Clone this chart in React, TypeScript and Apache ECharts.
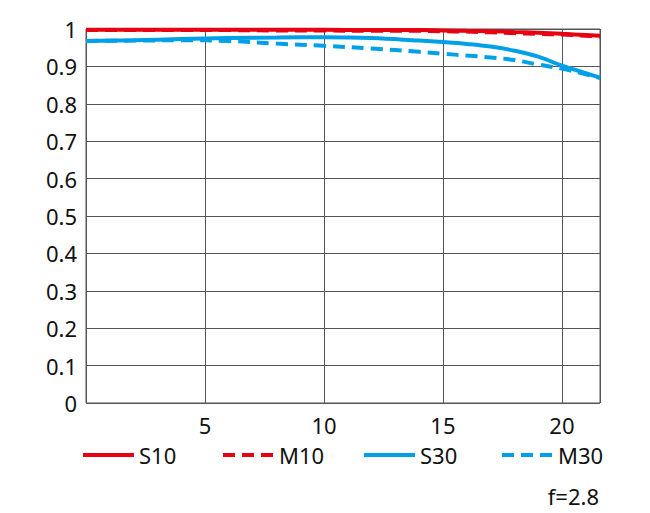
import React, { useEffect, useRef } from "react";
import * as echarts from "echarts";

const xValues = [0, 2, 4, 6, 8, 10, 12, 14, 15, 16, 17, 18, 19, 20, 21, 21.6];
const s10 = [0.998, 0.998, 0.998, 0.998, 0.998, 0.998, 0.997, 0.997, 0.996, 0.995, 0.994, 0.992, 0.99, 0.987, 0.984, 0.982];
const m10 = [0.997, 0.997, 0.997, 0.997, 0.996, 0.996, 0.995, 0.995, 0.994, 0.993, 0.991, 0.989, 0.987, 0.985, 0.982, 0.98];
const s30 = [0.968, 0.97, 0.973, 0.976, 0.977, 0.978, 0.976, 0.969, 0.965, 0.96, 0.953, 0.942, 0.926, 0.902, 0.882, 0.87];
const m30 = [0.968, 0.969, 0.97, 0.968, 0.961, 0.955, 0.948, 0.939, 0.934, 0.929, 0.924, 0.917, 0.905, 0.894, 0.879, 0.869];
const seriesNames = ["S10", "M10", "S30", "M30"];
const seriesValues = [s10, m10, s30, m30];
const xTicks = [5, 10, 15, 20];
const fNumber = "f=2.8";

const RED = "#e60012";
const BLUE = "#00a0e9";
const FONT = "'Noto Sans', 'Open Sans', sans-serif";

export default function App() {
  const ref = useRef<HTMLDivElement>(null);
  useEffect(() => {
    if (!ref.current) return;
    const chart = echarts.init(ref.current, null, { renderer: "svg" });
    const colors = [RED, RED, BLUE, BLUE];
    const dashed = [false, true, false, true];
    const legendLefts = [81, 221, 362, 500];
    chart.setOption({
      animation: false,
      textStyle: { fontFamily: FONT },
      grid: {
        left: 86,
        right: 50,
        top: 29,
        bottom: 110,
        show: true,
        borderColor: "#555",
        borderWidth: 1,
      },
      xAxis: {
        type: "value",
        min: 0,
        max: 21.6,
        interval: 5,
        axisLine: { show: false },
        axisTick: { show: false },
        splitLine: { show: true, lineStyle: { color: "#555", width: 1 } },
        axisLabel: {
          margin: 11,
          fontSize: 22,
          color: "#111",
          fontFamily: FONT,
          showMinLabel: false,
          showMaxLabel: false,
          formatter: (v: number) => (xTicks.indexOf(v) >= 0 ? String(v) : ""),
        },
      },
      yAxis: {
        type: "value",
        min: 0,
        max: 1,
        interval: 0.1,
        axisLine: { show: false },
        axisTick: { show: false },
        splitLine: { show: true, lineStyle: { color: "#555", width: 1 } },
        axisLabel: {
          margin: 9,
          fontSize: 22,
          color: "#111",
          fontFamily: FONT,
          formatter: (v: number) => {
            const r = Math.round(v * 10) / 10;
            if (r === 0) return "0";
            if (r === 1) return "1";
            return r.toFixed(1);
          },
        },
      },
      legend: seriesNames.map((n, i) => ({
        data: [n],
        left: legendLefts[i],
        top: 444,
        padding: 0,
        itemWidth: 51,
        itemHeight: 14,
        itemStyle: { opacity: 0, borderWidth: 0 },
        lineStyle: { width: 4, color: colors[i], type: dashed[i] ? [12, 7] : "solid" },
        textStyle: { fontSize: 22, color: "#111", fontFamily: FONT, padding: [0, 0, 0, 0] },
      })),
      graphic: [
        {
          type: "text",
          right: 51,
          top: 485,
          style: { text: fNumber, fontSize: 22, fill: "#111", fontFamily: FONT },
        },
      ],
      series: seriesNames.map((n, i) => ({
        name: n,
        type: "line",
        data: xValues.map((x, j) => [x, seriesValues[i][j]]),
        smooth: 0.4,
        symbol: "none",
        clip: false,
        lineStyle: { color: colors[i], width: 4, type: dashed[i] ? [12, 7] : "solid" },
        itemStyle: { color: colors[i] },
      })),
    });
    return () => chart.dispose();
  }, []);
  return (
    <div
      ref={ref}
      style={{ position: "fixed", left: 0, top: 0, width: 650, height: 513, background: "#fff" }}
    />
  );
}
